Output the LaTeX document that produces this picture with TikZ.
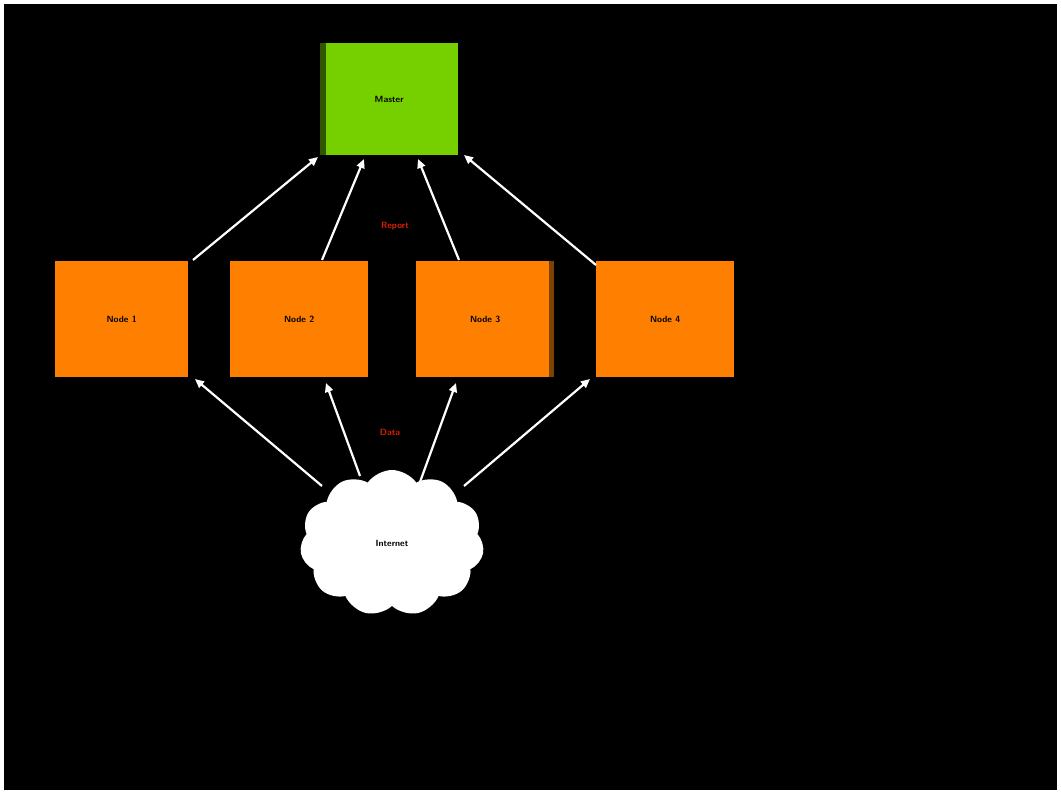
\documentclass[tikz,border=0pt]{standalone}
\usetikzlibrary{shapes.symbols,arrows.meta}
\definecolor{mgreen}{RGB}{118,208,0}
\definecolor{dgreen}{RGB}{50,85,0}
\definecolor{orng}{RGB}{255,128,0}
\definecolor{brwn}{RGB}{125,65,0}
\definecolor{labred}{RGB}{220,30,0}
\begin{document}
\begin{tikzpicture}[x=1pt,y=-1pt,
  obox/.style={fill=orng,minimum width=134,minimum height=116,anchor=north west,inner sep=0,font=\sffamily\small\bfseries,text=black},
  conn/.style={draw=white,line width=2.2pt,-{Triangle[length=9pt,width=8pt]}},
  lab/.style={text=labred,font=\sffamily\small\bfseries}]
\useasboundingbox (0,0) rectangle (1061,794);
\fill[white] (0,0) rectangle (1061,794);
\fill[black] (4,4) rectangle (1057,790);
% master
\node[fill=mgreen,minimum width=138,minimum height=112,anchor=north west,inner sep=0,font=\sffamily\small\bfseries] (m) at (320,43) {Master};
\fill[dgreen] (320,43) rectangle (326,155);
% workers
\node[obox,minimum width=133] (a) at (55,261) {Node 1};
\node[obox,minimum width=138] (b) at (230,261) {Node 2};
\node[obox,minimum width=138] (c) at (416,261) {Node 3};
\fill[brwn] (549,261) rectangle (554,377);
\node[obox,minimum width=138] (d) at (596,261) {Node 4};
% cloud
\node[cloud,cloud puffs=11,cloud puff arc=110,aspect=1.3,fill=white,draw=none,minimum width=184,minimum height=146,inner sep=0,font=\sffamily\small\bfseries] (n) at (392,543) {Internet};
% connectors to master
\coordinate (a1) at (193,260); \coordinate (m1) at (318,157);
\coordinate (b1) at (322,260); \coordinate (m2) at (364,159);
\coordinate (c1) at (459,260); \coordinate (m3) at (418,159);
\coordinate (d1) at (596,265); \coordinate (m4) at (464,155);
\draw[conn] (a1) -- (m1);
\draw[conn] (b1) -- (m2);
\draw[conn] (c1) -- (m3);
\draw[conn] (d1) -- (m4);
% connectors from cloud
\coordinate (n1) at (322,486); \coordinate (a2) at (195,379);
\coordinate (n2) at (360,476); \coordinate (b2) at (326,383);
\coordinate (n3) at (420,482); \coordinate (c2) at (456,383);
\coordinate (n4) at (464,486); \coordinate (d2) at (590,379);
\draw[conn] (n1) -- (a2);
\draw[conn] (n2) -- (b2);
\draw[conn] (n3) -- (c2);
\draw[conn] (n4) -- (d2);
\node[lab] (l1) at (395,226) {Report};
\node[lab] (l2) at (390,432) {Data};
\end{tikzpicture}
\end{document}
